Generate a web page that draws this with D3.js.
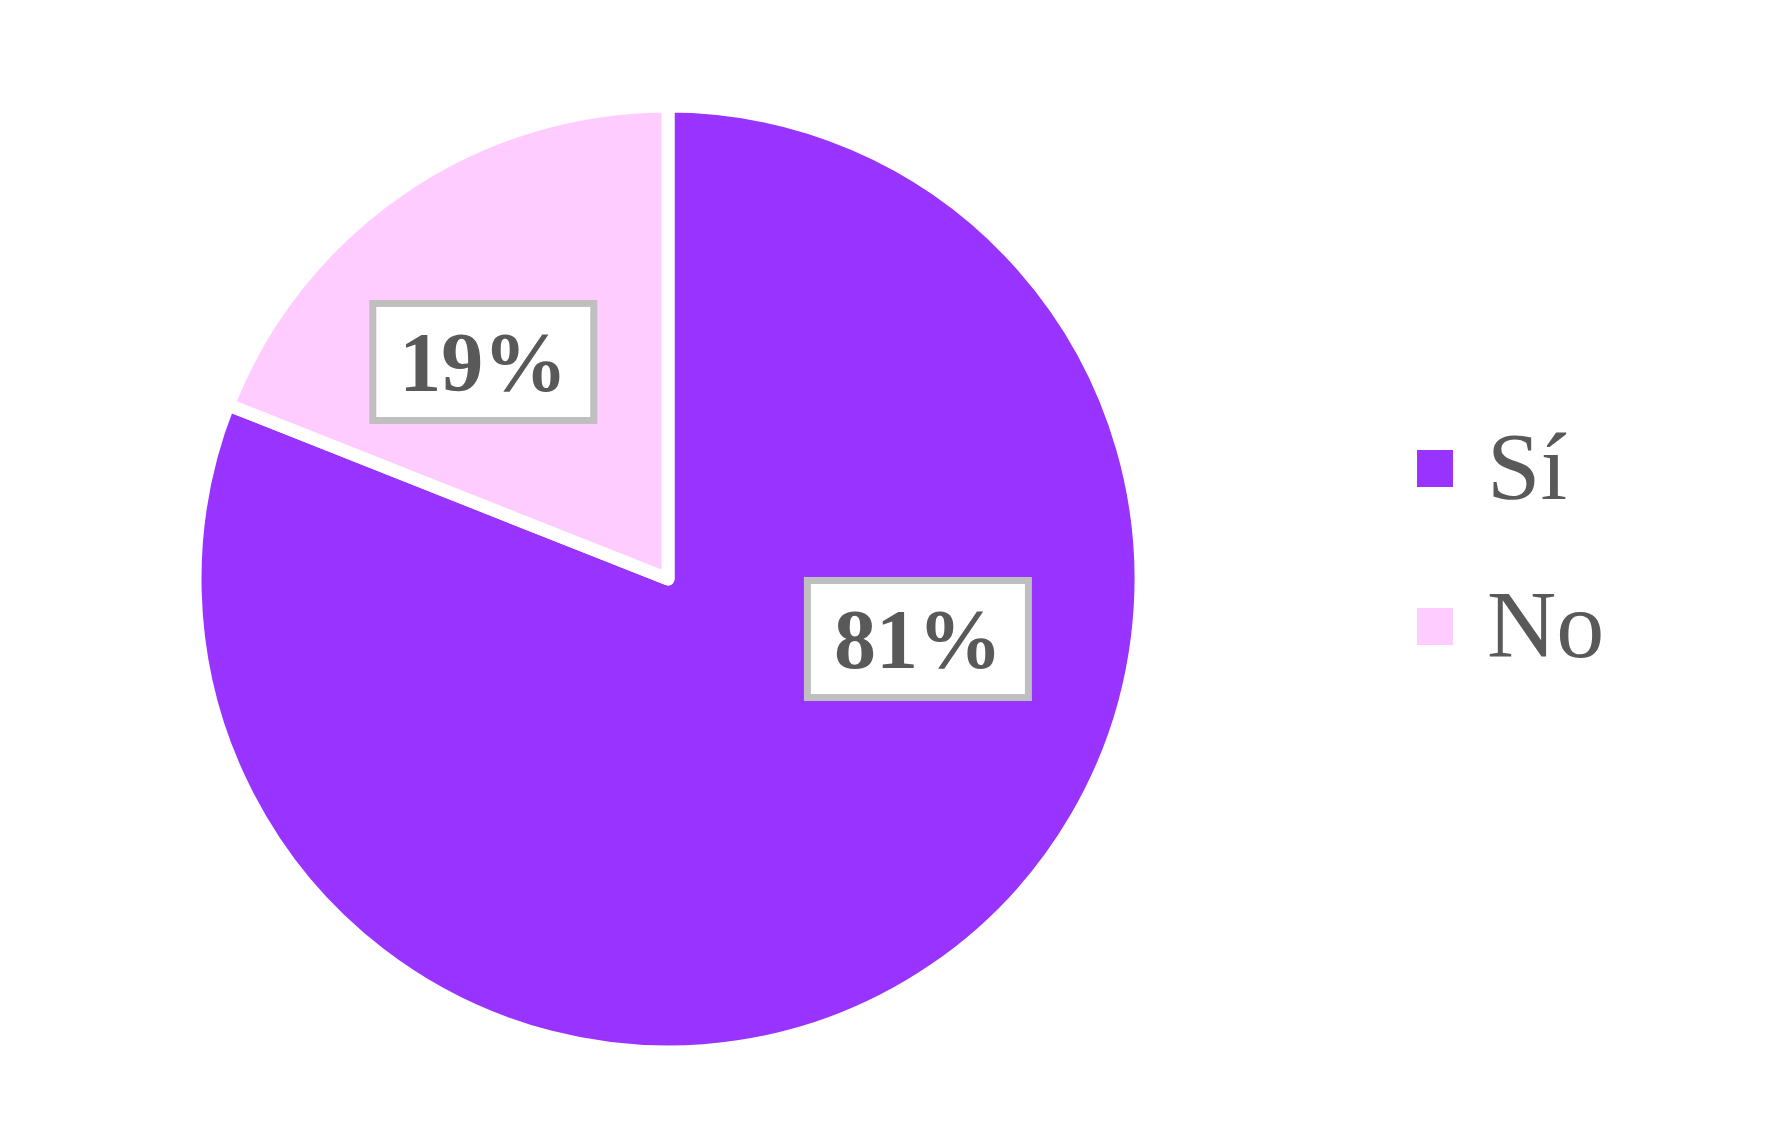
<!DOCTYPE html>
<html>
<head>
<meta charset="utf-8">
<script src="https://cdn.jsdelivr.net/npm/d3@7"></script>
<style>
  html, body { margin: 0; padding: 0; background: #fff; }
  svg { display: block; }
</style>
</head>
<body>
<svg id="chart" width="1774" height="1139"></svg>
<script>
// Data
const categories = ["Sí", "No"];
const values = [81, 19];
const labels = ["81%", "19%"];
const colors = ["#9933FF", "#FFCCFF"];

// Layout
const W = 1774, H = 1139;
const cx = 668, cy = 579, R = 473;
// label placement (polar, degrees clockwise from top, radius in px) per slice
const labelPolar = [[103.5, 257], [319.6, 285]];

const svg = d3.select("#chart");
const g = svg.append("g").attr("transform", `translate(${cx},${cy})`);

const pie = d3.pie().sort(null).value(d => d)(values);
const arc = d3.arc().innerRadius(0).outerRadius(R);

g.selectAll("path.slice").data(pie).enter().append("path")
  .attr("class", "slice")
  .attr("d", arc)
  .attr("fill", (d, i) => colors[i])
  .attr("stroke", "#fff")
  .attr("stroke-width", 13)
  .attr("stroke-linejoin", "round");

// data labels
const boxW = 221, boxH = 117;
const lbl = g.selectAll("g.lbl").data(pie).enter().append("g")
  .attr("class", "lbl")
  .attr("transform", (d, i) => {
    const a = labelPolar[i][0] * Math.PI / 180, r = labelPolar[i][1];
    return `translate(${r * Math.sin(a)},${-r * Math.cos(a)})`;
  });
lbl.append("rect")
  .attr("x", -boxW / 2).attr("y", -boxH / 2)
  .attr("width", boxW).attr("height", boxH)
  .attr("fill", "#fff")
  .attr("stroke", "#BFBFBF")
  .attr("stroke-width", 7);
lbl.append("text")
  .attr("text-anchor", "middle")
  .attr("y", 29)
  .attr("font-family", "'Liberation Serif', 'DejaVu Serif', serif")
  .attr("font-weight", "bold")
  .attr("font-size", 84)
  .attr("fill", "#595959")
  .text((d, i) => labels[i]);

// legend
const legend = svg.append("g").attr("transform", "translate(1417,468)");
const ly = d3.scalePoint().domain(categories).range([0, 158]);
const items = legend.selectAll("g.item").data(categories).enter().append("g")
  .attr("class", "item")
  .attr("transform", d => `translate(0,${ly(d)})`);
items.append("rect")
  .attr("x", 0).attr("y", -18)
  .attr("width", 36).attr("height", 37)
  .attr("fill", (d, i) => colors[i]);
items.append("text")
  .attr("x", 70).attr("y", 31)
  .attr("font-family", "'Liberation Serif', 'DejaVu Serif', serif")
  .attr("font-size", 96)
  .attr("fill", "#595959")
  .text(d => d);
</script>
</body>
</html>
